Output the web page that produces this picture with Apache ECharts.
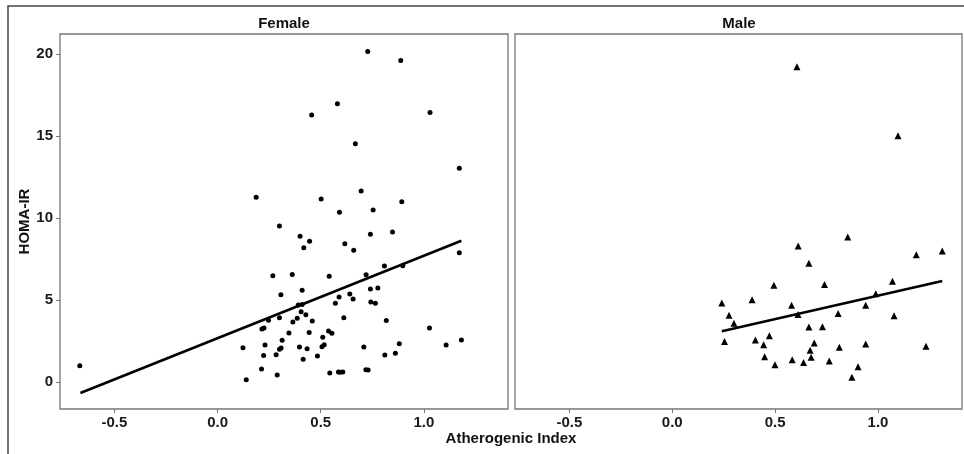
<!DOCTYPE html>
<html>
<head>
<meta charset="utf-8">
<script src="https://cdn.jsdelivr.net/npm/echarts@6/dist/echarts.min.js"></script>
<style>
  html, body { margin: 0; padding: 0; background: #fff; }
  #chart { width: 964px; height: 454px; }
</style>
</head>
<body>
<div id="chart"></div>
<script>
// Atherogenic index vs HOMA-IR
const femaleAI = [-0.668, 0.123, 0.139, 0.187, 0.213, 0.215, 0.225, 0.223, 0.23, 0.247,
  0.268, 0.284, 0.289, 0.30, 0.30, 0.30, 0.308, 0.307, 0.313, 0.346,
  0.362, 0.365, 0.386, 0.391, 0.397, 0.40, 0.405, 0.41, 0.41, 0.415,
  0.418, 0.428, 0.434, 0.444, 0.446, 0.456, 0.459, 0.484, 0.502, 0.506,
  0.51, 0.517, 0.538, 0.541, 0.544, 0.554, 0.571, 0.581, 0.586, 0.593,
  0.607, 0.589, 0.591, 0.612, 0.617, 0.641, 0.657, 0.66, 0.668, 0.696,
  0.709, 0.72, 0.719, 0.73, 0.728, 0.741, 0.741, 0.743, 0.754, 0.765,
  0.777, 0.809, 0.811, 0.818, 0.848, 0.862, 0.881, 0.888, 0.893, 0.898,
  1.027, 1.03, 1.108, 1.172, 1.172, 1.182];
const femaleHOMA = [1.01, 2.11, 0.16, 11.28, 0.81, 3.25, 3.31, 1.64, 2.27, 3.78,
  6.5, 1.68, 0.45, 9.53, 3.94, 2.01, 2.09, 5.34, 2.56, 3.0,
  6.58, 3.68, 3.9, 4.71, 2.15, 8.9, 4.3, 4.75, 5.61, 1.4,
  8.21, 4.12, 2.05, 3.03, 8.6, 16.3, 3.74, 1.6, 11.18, 2.17,
  2.74, 2.29, 3.13, 6.46, 0.57, 2.99, 4.82, 16.99, 0.63, 0.61,
  0.63, 5.2, 10.37, 3.94, 8.45, 5.38, 5.08, 8.05, 14.55, 11.66,
  2.15, 6.56, 0.77, 0.75, 20.18, 9.02, 5.69, 4.9, 10.5, 4.82,
  5.75, 7.09, 1.66, 3.76, 9.16, 1.77, 2.35, 19.63, 11.01, 7.1,
  3.31, 16.46, 2.27, 13.05, 7.9, 2.58];

const maleAI = [0.241, 0.254, 0.276, 0.30, 0.388, 0.404, 0.444, 0.449, 0.472, 0.494,
  0.499, 0.58, 0.583, 0.606, 0.611, 0.612, 0.638, 0.664, 0.664, 0.67,
  0.675, 0.69, 0.73, 0.74, 0.763, 0.806, 0.812, 0.853, 0.873, 0.903,
  0.94, 0.94, 0.989, 1.07, 1.078, 1.097, 1.186, 1.233, 1.312];
const maleHOMA = [4.84, 2.48, 4.08, 3.6, 5.04, 2.58, 2.29, 1.56, 2.84, 5.91,
  1.07, 4.69, 1.38, 19.24, 4.14, 8.31, 1.2, 7.26, 3.37, 1.95,
  1.52, 2.4, 3.39, 5.97, 1.3, 4.2, 2.13, 8.86, 0.3, 0.95,
  4.69, 2.34, 5.4, 6.16, 4.06, 15.04, 7.78, 2.19, 8.0];

// fitted line ends (x, y)
const femaleFit = [[-0.665, -0.65], [1.182, 8.63]];
const maleFit = [[0.241, 3.11], [1.312, 6.18]];

const xTicks = [-0.5, 0, 0.5, 1];
const yTicks = [0, 5, 10, 15, 20];

const FONT = 'Liberation Sans, Arial, sans-serif';

const zip = (xs, ys) => xs.map((x, i) => [x, ys[i]]);

const makeX = (idx) => ({
  type: 'value',
  gridIndex: idx,
  min: -0.764,
  max: 1.408,
  splitLine: { show: false },
  axisLine: { show: false, onZero: false },
  axisTick: { show: true, length: 4, customValues: xTicks, lineStyle: { color: '#777' } },
  axisLabel: {
    customValues: xTicks,
    formatter: v => v.toFixed(1),
    margin: 6,
    color: '#1a1a1a',
    fontSize: 15,
    fontWeight: 'bold',
    fontFamily: FONT
  }
});

const makeY = (idx, labels) => ({
  type: 'value',
  gridIndex: idx,
  min: -1.63,
  max: 21.24,
  splitLine: { show: false },
  axisLine: { show: false, onZero: false },
  axisTick: { show: labels, length: 4, customValues: yTicks, lineStyle: { color: '#777' } },
  axisLabel: {
    show: labels,
    customValues: yTicks,
    margin: 7,
    color: '#1a1a1a',
    fontSize: 15,
    fontWeight: 'bold',
    fontFamily: FONT
  },
  name: labels ? 'HOMA-IR' : '',
  nameLocation: 'middle',
  nameGap: 28,
  nameTextStyle: { color: '#111', fontSize: 15, fontWeight: 'bold', fontFamily: FONT }
});

const panelGrid = (left, width) => ({
  left: left, top: 34, width: width, height: 375,
  show: true, borderColor: '#777', borderWidth: 1.3, backgroundColor: '#fff'
});

const chart = echarts.init(document.getElementById('chart'), null, { renderer: 'canvas' });

const option = {
  backgroundColor: '#fff',
  animation: false,
  grid: [panelGrid(60, 448), panelGrid(515, 447)],
  xAxis: [makeX(0), makeX(1)],
  yAxis: [makeY(0, true), makeY(1, false)],
  graphic: [
    {
      type: 'polyline',
      shape: { points: [[8, 454], [8, 6], [964, 6]] },
      style: { stroke: '#444', lineWidth: 1.5, fill: null },
      silent: true
    },
    {
      type: 'text', x: 284, y: 24,
      style: { text: 'Female', align: 'center', verticalAlign: 'middle', fill: '#111',
        font: 'bold 15px ' + FONT }
    },
    {
      type: 'text', x: 739, y: 24,
      style: { text: 'Male', align: 'center', verticalAlign: 'middle', fill: '#111',
        font: 'bold 15px ' + FONT }
    },
    {
      type: 'text', x: 511, y: 439,
      style: { text: 'Atherogenic Index', align: 'center', verticalAlign: 'middle', fill: '#111',
        font: 'bold 15px ' + FONT }
    }
  ],
  series: [
    {
      type: 'scatter', xAxisIndex: 0, yAxisIndex: 0,
      data: zip(femaleAI, femaleHOMA),
      symbol: 'circle', symbolSize: 5,
      itemStyle: { color: '#000', opacity: 1 }
    },
    {
      type: 'line', xAxisIndex: 0, yAxisIndex: 0,
      data: femaleFit, showSymbol: false,
      lineStyle: { color: '#000', width: 2.6 }
    },
    {
      type: 'scatter', xAxisIndex: 1, yAxisIndex: 1,
      data: zip(maleAI, maleHOMA),
      symbol: 'triangle', symbolSize: 7,
      itemStyle: { color: '#000', opacity: 1 }
    },
    {
      type: 'line', xAxisIndex: 1, yAxisIndex: 1,
      data: maleFit, showSymbol: false,
      lineStyle: { color: '#000', width: 2.6 }
    }
  ]
};

chart.setOption(option);
</script>
</body>
</html>
